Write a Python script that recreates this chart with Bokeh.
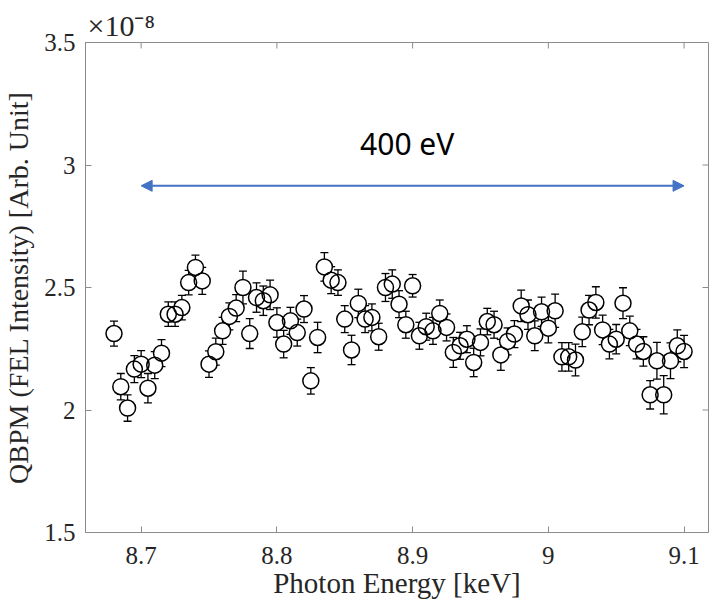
from bokeh.plotting import figure
from bokeh.models import (Range1d, FixedTicker, CustomJSTickFormatter,
                          Whisker, ColumnDataSource, TeeHead, Arrow, NormalHead, Label)
from bokeh.embed import file_html
from bokeh.resources import INLINE

# ---------------- data ----------------
energy = [8.680, 8.685, 8.690, 8.695, 8.700, 8.705, 8.710, 8.715, 8.720, 8.725,
          8.730, 8.735, 8.740, 8.745, 8.750, 8.755, 8.760, 8.765, 8.770, 8.775,
          8.780, 8.785, 8.790, 8.795, 8.800, 8.805, 8.810, 8.815, 8.820, 8.825,
          8.830, 8.835, 8.840, 8.845, 8.850, 8.855, 8.860, 8.865, 8.870, 8.875,
          8.880, 8.885, 8.890, 8.895, 8.900, 8.905, 8.910, 8.915, 8.920, 8.925,
          8.930, 8.935, 8.940, 8.945, 8.950, 8.955, 8.960, 8.965, 8.970, 8.975,
          8.980, 8.985, 8.990, 8.995, 9.000, 9.005, 9.010, 9.015, 9.020, 9.025,
          9.030, 9.035, 9.040, 9.045, 9.050, 9.055, 9.060, 9.065, 9.070, 9.075,
          9.080, 9.085, 9.090, 9.095, 9.100]
# intensity in units of 1e-8
intensity = [2.312, 2.095, 2.008, 2.167, 2.187, 2.089, 2.183, 2.232, 2.391, 2.391,
             2.418, 2.520, 2.582, 2.527, 2.187, 2.238, 2.323, 2.382, 2.416, 2.500,
             2.312, 2.459, 2.446, 2.470, 2.357, 2.269, 2.364, 2.316, 2.412, 2.119,
             2.296, 2.584, 2.530, 2.520, 2.371, 2.245, 2.435, 2.371, 2.378, 2.299,
             2.500, 2.514, 2.432, 2.348, 2.507, 2.303, 2.340, 2.323, 2.394, 2.337,
             2.235, 2.262, 2.289, 2.194, 2.276, 2.361, 2.348, 2.225, 2.280, 2.310,
             2.425, 2.389, 2.303, 2.401, 2.334, 2.405, 2.217, 2.217, 2.204, 2.319,
             2.408, 2.439, 2.327, 2.269, 2.289, 2.436, 2.323, 2.269, 2.239, 2.062,
             2.201, 2.062, 2.201, 2.262, 2.239]
error = [0.051, 0.054, 0.054, 0.055, 0.055, 0.060, 0.055, 0.055, 0.050, 0.050,
         0.050, 0.050, 0.050, 0.055, 0.054, 0.055, 0.055, 0.055, 0.055, 0.067,
         0.061, 0.060, 0.060, 0.060, 0.060, 0.056, 0.055, 0.055, 0.055, 0.054,
         0.062, 0.058, 0.055, 0.052, 0.055, 0.060, 0.058, 0.055, 0.055, 0.055,
         0.057, 0.058, 0.055, 0.055, 0.046, 0.055, 0.055, 0.055, 0.055, 0.055,
         0.061, 0.055, 0.055, 0.058, 0.055, 0.054, 0.055, 0.063, 0.055, 0.055,
         0.064, 0.060, 0.061, 0.060, 0.060, 0.068, 0.058, 0.058, 0.065, 0.060,
         0.060, 0.064, 0.060, 0.060, 0.060, 0.063, 0.060, 0.060, 0.060, 0.058,
         0.075, 0.078, 0.073, 0.065, 0.066]

x_ticks = [8.7, 8.8, 8.9, 9.0, 9.1]
y_ticks = [1.5, 2.0, 2.5, 3.0, 3.5]
x_limits = (8.659, 9.118)
y_limits = (1.5, 3.5)
exponent_label = "×10⁻⁸"

span_label = "400 eV"
span_x = (8.7, 9.1)
span_y = 2.915
span_label_pos = (8.896, 3.086)

# ---------------- styles ----------------
AX = "#8c8c8c"
TXT = "#262626"
SERIF = "Liberation Serif"
BLUE = "#4472C4"

lower = [v - e for v, e in zip(intensity, error)]
upper = [v + e for v, e in zip(intensity, error)]
src = ColumnDataSource(dict(x=energy, y=intensity, lo=lower, hi=upper))

p = figure(width=717, height=606, output_backend="svg", toolbar_location=None,
           x_range=Range1d(*x_limits), y_range=Range1d(*y_limits),
           min_border_left=84, min_border_right=9, min_border_top=42, min_border_bottom=74,
           x_axis_label="Photon Energy [keV]",
           y_axis_label="QBPM (FEL Intensity) [Arb. Unit]")
p.grid.visible = False
p.outline_line_color = AX
p.outline_line_width = 1
p.background_fill_color = "white"
p.border_fill_color = "white"

# MATLAB-style exponent label as a left-aligned title above the box
p.title.text = exponent_label
p.title.align = "left"
p.title.offset = 2
p.title.standoff = 1
p.title.text_font = SERIF
p.title.text_font_size = "30px"
p.title.text_font_style = "normal"
p.title.text_color = TXT

fmt = CustomJSTickFormatter(code="return (Math.round(tick*100)/100).toString();")

for ax, ticks in ((p.xaxis[0], x_ticks), (p.yaxis[0], y_ticks)):
    ax.ticker = FixedTicker(ticks=ticks)
    ax.formatter = fmt
    ax.axis_line_color = AX
    ax.major_tick_line_color = AX
    ax.major_tick_in = 6
    ax.major_tick_out = 0
    ax.minor_tick_line_color = None
    ax.major_label_text_font = SERIF
    ax.major_label_text_font_size = "25px"
    ax.major_label_text_color = TXT
    ax.axis_label_text_font = SERIF
    ax.axis_label_text_font_style = "normal"
    ax.axis_label_text_color = TXT

p.xaxis[0].axis_label_text_font_size = "29px"
p.yaxis[0].axis_label_text_font_size = "28px"
p.xaxis[0].major_label_standoff = 14
p.xaxis[0].axis_label_standoff = 0
p.yaxis[0].major_label_standoff = 10
p.yaxis[0].axis_label_standoff = 7

# inward ticks on the top and right edges of the box
tick_dy = (y_limits[1] - y_limits[0]) * 6 / 490
tick_dx = (x_limits[1] - x_limits[0]) * 6 / 624
p.segment(x0=x_ticks, y0=[y_limits[1]] * len(x_ticks),
          x1=x_ticks, y1=[y_limits[1] - tick_dy] * len(x_ticks),
          line_color=AX, line_width=1)
p.segment(x0=[x_limits[1]] * len(y_ticks), y0=y_ticks,
          x1=[x_limits[1] - tick_dx] * len(y_ticks), y1=y_ticks,
          line_color=AX, line_width=1)

# error bars
wh = Whisker(source=src, base="x", lower="lo", upper="hi", dimension="height",
             line_color="black", line_width=1.3, level="underlay",
             lower_head=TeeHead(size=8, line_color="black", line_width=1.3),
             upper_head=TeeHead(size=8, line_color="black", line_width=1.3))
p.add_layout(wh)

# markers: white fill, then outlines
p.scatter("x", "y", source=src, marker="circle", size=16, fill_color="white", line_color=None)
p.scatter("x", "y", source=src, marker="circle", size=16, fill_color=None,
          line_color="black", line_width=1.5)

# double arrow
arr = Arrow(x_start=span_x[0], y_start=span_y, x_end=span_x[1], y_end=span_y,
            line_color=BLUE, line_width=2,
            start=NormalHead(size=11, fill_color=BLUE, line_color=BLUE, line_width=1),
            end=NormalHead(size=11, fill_color=BLUE, line_color=BLUE, line_width=1))
p.add_layout(arr)
p.add_layout(Label(x=span_label_pos[0], y=span_label_pos[1], text=span_label,
                   text_align="center", text_baseline="middle", text_font="Noto Sans",
                   text_font_size="30px", text_color="black"))

open("out.html", "w").write(file_html(p, INLINE))
